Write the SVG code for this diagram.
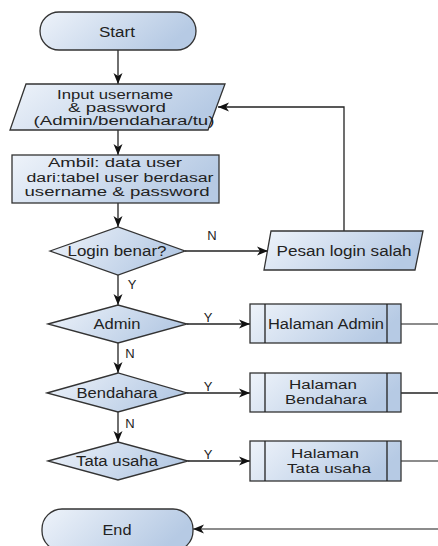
<svg xmlns="http://www.w3.org/2000/svg" width="438" height="546" viewBox="0 0 438 546">
<defs>
<linearGradient id="g" x1="0" y1="0" x2="1" y2="0.3">
<stop offset="0" stop-color="#eef3fa"/>
<stop offset="1" stop-color="#b6cae4"/>
</linearGradient>
<marker id="ah" markerUnits="userSpaceOnUse" markerWidth="12" markerHeight="10" refX="11" refY="5" orient="auto">
<path d="M0,0.5 L11,5 L0,9.5 L3,5 z" fill="#111"/>
</marker>
</defs>
<style>
.s{fill:url(#g);stroke:#333;stroke-width:1.3}
.t{font-family:"Liberation Sans",Arial,sans-serif;font-size:14px;fill:#222;text-anchor:middle}
.m{font-size:12.5px}
.l{font-family:"Liberation Sans",Arial,sans-serif;font-size:13px;fill:#222;text-anchor:middle}
.c{fill:none;stroke:#222;stroke-width:1.3}
.e{fill:none;stroke:#666;stroke-width:1.3}
</style>
<g id="connectors">
<path class="c" d="M118,50 V84" marker-end="url(#ah)"/>
<path class="c" d="M118,130 V155" marker-end="url(#ah)"/>
<path class="c" d="M118,203 V227" marker-end="url(#ah)"/>
<path class="c" d="M185,251 H268" marker-end="url(#ah)"/>
<path class="c" d="M344,231 V107 H218" marker-end="url(#ah)"/>
<path class="c" d="M118,275 V305" marker-end="url(#ah)"/>
<path class="c" d="M187,324 H250" marker-end="url(#ah)"/>
<path class="c" d="M118,343 V373" marker-end="url(#ah)"/>
<path class="c" d="M187,393 H250" marker-end="url(#ah)"/>
<path class="c" d="M118,412 V442" marker-end="url(#ah)"/>
<path class="c" d="M188,461 H250" marker-end="url(#ah)"/>
<path class="e" d="M401,324 H438"/>
<path class="c" d="M401,393 H438"/>
<path class="e" d="M401,461 H438"/>
<path class="e" d="M438,529 H193" marker-end="url(#ah)"/>
<text class="l" x="212" y="240">N</text>
<text class="l" x="132" y="289">Y</text>
<text class="l" x="208" y="322">Y</text>
<text class="l" x="130" y="358">N</text>
<text class="l" x="208" y="391">Y</text>
<text class="l" x="130" y="428">N</text>
<text class="l" x="208" y="459">Y</text>
</g>
<g id="start">
<rect class="s" x="40" y="12" width="156" height="38" rx="19"/>
<text class="t" x="117" y="37" textLength="36" lengthAdjust="spacingAndGlyphs">Start</text>
</g>
<g id="input">
<polygon class="s" points="26,84 225,84 208,130 10,130"/>
<text class="t m" x="115" y="99" textLength="116" lengthAdjust="spacingAndGlyphs">Input username</text>
<text class="t m" x="117" y="112" textLength="98" lengthAdjust="spacingAndGlyphs">&amp; password</text>
<text class="t m" x="124" y="125" textLength="181" lengthAdjust="spacingAndGlyphs">(Admin/bendahara/tu)</text>
</g>
<g id="ambil">
<rect class="s" x="12" y="155" width="207" height="48"/>
<text class="t m" x="115" y="167" textLength="134" lengthAdjust="spacingAndGlyphs">Ambil: data user</text>
<text class="t m" x="120" y="182" textLength="187" lengthAdjust="spacingAndGlyphs">dari:tabel user berdasar</text>
<text class="t m" x="117" y="196" textLength="185" lengthAdjust="spacingAndGlyphs">username &amp; password</text>
</g>
<g id="login">
<polygon class="s" points="50,251 118,227 185,251 118,275"/>
<text class="t" x="117" y="256" textLength="99" lengthAdjust="spacingAndGlyphs">Login benar?</text>
</g>
<g id="pesan">
<polygon class="s" points="271,231 423,231 415,270 264,270"/>
<text class="t" x="344" y="256" textLength="135" lengthAdjust="spacingAndGlyphs">Pesan login salah</text>
</g>
<g id="admin">
<polygon class="s" points="48,324 118,305 187,324 118,343"/>
<text class="t" x="117" y="329" textLength="47" lengthAdjust="spacingAndGlyphs">Admin</text>
</g>
<g id="halaman-admin">
<rect class="s" x="250" y="304" width="151" height="39"/>
<path class="c" d="M265,304 V343 M387,304 V343"/>
<text class="t" x="326" y="329" textLength="116" lengthAdjust="spacingAndGlyphs">Halaman Admin</text>
</g>
<g id="bendahara">
<polygon class="s" points="47,393 118,373 187,393 118,412"/>
<text class="t" x="117" y="398" textLength="81" lengthAdjust="spacingAndGlyphs">Bendahara</text>
</g>
<g id="halaman-bendahara">
<rect class="s" x="250" y="373" width="151" height="39"/>
<path class="c" d="M265,373 V412 M387,373 V412"/>
<text class="t m" x="323" y="389" textLength="68" lengthAdjust="spacingAndGlyphs">Halaman</text>
<text class="t m" x="326" y="404" textLength="82" lengthAdjust="spacingAndGlyphs">Bendahara</text>
</g>
<g id="tata-usaha">
<polygon class="s" points="48,461 118,442 188,461 118,480"/>
<text class="t" x="117" y="466" textLength="82" lengthAdjust="spacingAndGlyphs">Tata usaha</text>
</g>
<g id="halaman-tata-usaha">
<rect class="s" x="250" y="441" width="151" height="40"/>
<path class="c" d="M265,441 V481 M387,441 V481"/>
<text class="t m" x="325" y="458" textLength="68" lengthAdjust="spacingAndGlyphs">Halaman</text>
<text class="t m" x="329" y="473" textLength="84" lengthAdjust="spacingAndGlyphs">Tata usaha</text>
</g>
<g id="end">
<rect class="s" x="42" y="509" width="151" height="42" rx="20"/>
<text class="t" x="117" y="535" textLength="29" lengthAdjust="spacingAndGlyphs">End</text>
</g>
</svg>
